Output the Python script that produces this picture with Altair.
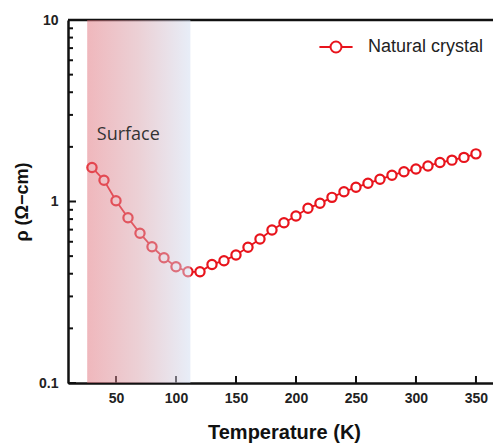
import altair as alt
import pandas as pd

# ---- data ----
temperature = [30, 40, 50, 60, 70, 80, 90, 100, 110, 120, 130, 140, 150, 160, 170,
               180, 190, 200, 210, 220, 230, 240, 250, 260, 270, 280, 290, 300,
               310, 320, 330, 340, 350]
resistivity = [1.54, 1.31, 1.01, 0.814, 0.668, 0.563, 0.490, 0.437, 0.410, 0.410,
               0.450, 0.472, 0.507, 0.560, 0.621, 0.697, 0.764, 0.832, 0.917,
               0.977, 1.054, 1.132, 1.197, 1.26, 1.325, 1.394, 1.46, 1.51, 1.57,
               1.64, 1.69, 1.75, 1.83]
series_name = "Natural crystal"

surface_start = [26]
surface_end = [112]
surface_label = ["Surface"]
surface_label_T = [34]
surface_label_rho = [2.32]

x_major_ticks = [50, 100, 150, 200, 250, 300, 350]
y_major_ticks = [0.1, 1, 10]
y_minor_ticks = [0.2, 0.3, 0.4, 0.5, 0.6, 0.7, 0.8, 0.9,
                 2, 3, 4, 5, 6, 7, 8, 9]

W, H = 425, 363
RED = "#e8141c"

df = pd.DataFrame({"T": temperature, "rho": resistivity, "series": series_name})

xscale = alt.Scale(domain=[10, 364.2], nice=False, zero=False)
yscale = alt.Scale(type="log", domain=[0.1, 10], nice=False)

x_enc = alt.X("T:Q", scale=xscale, axis=alt.Axis(
    title="Temperature (K)", values=x_major_ticks, tickSize=0, labelPadding=8,
    labelFont="Liberation Sans", labelFontSize=14, labelFontWeight="bold",
    labelColor="#222", titleFont="Liberation Sans", titleFontSize=20,
    titleFontWeight="bold", titleColor="#111", titleX=216, titleY=49,
    titleBaseline="middle", grid=False, domainColor="#111", domainWidth=2.5,
    labelFlush=False))
y_enc = alt.Y("rho:Q", scale=yscale, axis=alt.Axis(
    title="ρ (Ω−cm)", values=y_major_ticks, format="~g", tickSize=0,
    labelPadding=10, labelFont="Liberation Sans", labelFontSize=14,
    labelFontWeight="bold", labelColor="#222", titleFont="Liberation Sans",
    titleFontSize=18, titleFontWeight="bold", titleColor="#111",
    titleX=-46, titleY=H / 2, titleAngle=270, titleBaseline="middle",
    grid=False, domainColor="#111", domainWidth=2.5, labelFlush=False))

symbol_path = ("M-1,0H-0.33 M0.33,0H1 "
               "M0.33,0A0.33,0.33 0 1,1 -0.33,0A0.33,0.33 0 1,1 0.33,0")

line = alt.Chart(df).mark_line(strokeWidth=1.8, clip=True).encode(
    x=x_enc, y=y_enc,
    color=alt.Color("series:N", scale=alt.Scale(range=[RED]), legend=alt.Legend(
        title=None, orient="none", legendX=250, legendY=9,
        symbolType=symbol_path, symbolSize=1100, symbolStrokeWidth=2,
        symbolFillColor="transparent", symbolStrokeColor=RED,
        labelFont="Liberation Sans", labelFontSize=18, labelColor="#222",
        labelLimit=300, labelOffset=14)))

points = alt.Chart(df).mark_point(
    filled=False, fill="white", fillOpacity=1, size=85, strokeWidth=2.2,
    color=RED, opacity=1, clip=True).encode(
    x=alt.X("T:Q", scale=xscale), y=alt.Y("rho:Q", scale=yscale))

# inward ticks
ymaj = alt.Chart(pd.DataFrame({"v": y_major_ticks})).mark_rule(
    color="#111", strokeWidth=2).encode(
    y=alt.Y("v:Q", scale=yscale), x=alt.value(0), x2=alt.value(8))
ymin = alt.Chart(pd.DataFrame({"v": y_minor_ticks})).mark_rule(
    color="#111", strokeWidth=2).encode(
    y=alt.Y("v:Q", scale=yscale), x=alt.value(0), x2=alt.value(5))
xmaj = alt.Chart(pd.DataFrame({"v": x_major_ticks})).mark_rule(
    color="#111", strokeWidth=2).encode(
    x=alt.X("v:Q", scale=xscale), y=alt.value(H), y2=alt.value(H - 7))
top = alt.Chart(pd.DataFrame({"v": [0]})).mark_rule(
    color="#111", strokeWidth=2.5).encode(
    x=alt.value(0), x2=alt.value(W), y=alt.value(0))

grad = alt.LinearGradient(
    gradient="linear", x1=0, x2=1, y1=0, y2=0,
    stops=[alt.GradientStop(color="#e0707a", offset=0),
           alt.GradientStop(color="#d8a2ac", offset=0.5),
           alt.GradientStop(color="#d0dcf0", offset=1)])
shade = alt.Chart(pd.DataFrame({"a": surface_start, "b": surface_end})).mark_rect(
    fill=grad, fillOpacity=0.5).encode(
    x=alt.X("a:Q", scale=xscale), x2="b:Q", y=alt.value(0), y2=alt.value(H))

label = alt.Chart(pd.DataFrame({"t": surface_label, "T": surface_label_T,
                                "r": surface_label_rho})).mark_text(
    align="left", baseline="middle", font="Open Sans", fontSize=18,
    color="#333").encode(
    x=alt.X("T:Q", scale=xscale), y=alt.Y("r:Q", scale=yscale), text="t:N")

chart = alt.layer(line, points, ymaj, ymin, xmaj, top, shade, label).properties(
    width=W, height=H,
    autosize=alt.AutoSizeParams(type="none"),
    padding={"left": 68, "top": 20, "right": 0, "bottom": 60},
    background="white",
).configure_view(stroke=None)

chart.save("out.html", embed_options={"renderer": "svg", "actions": False})
